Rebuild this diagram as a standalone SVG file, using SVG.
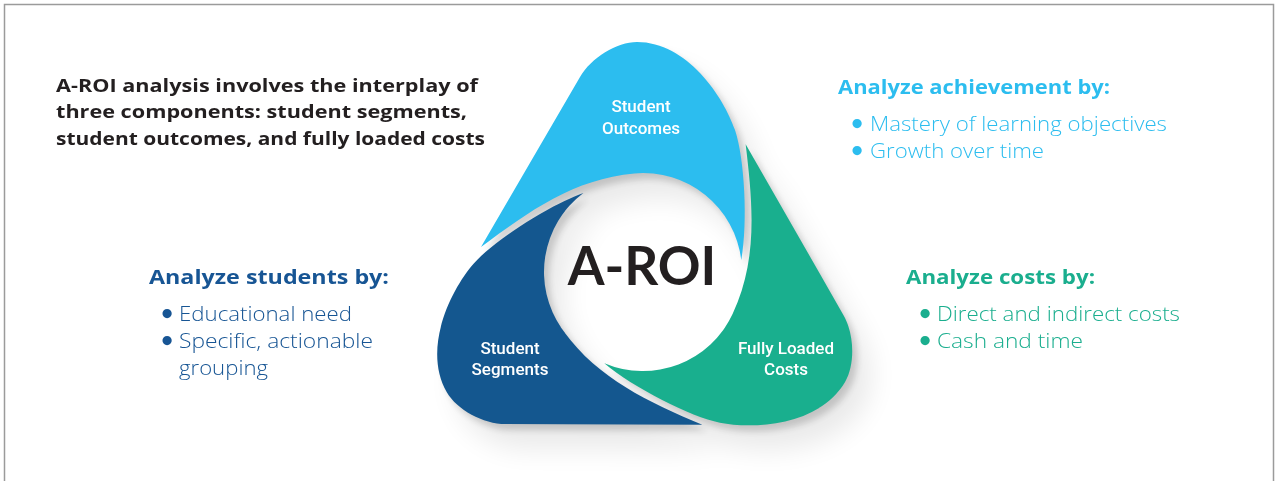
<svg xmlns="http://www.w3.org/2000/svg" xmlns:xlink="http://www.w3.org/1999/xlink" width="1276" height="481" viewBox="0 0 1276 481">
  <defs>
    <style>
      .frame { fill: none; stroke: #9b9b9b; stroke-width: 1.5; }
      .intro { font-family: "Open Sans", "Liberation Sans", sans-serif; font-weight: 700; font-size: 18.5px; fill: #231f20; }
      .head { font-family: "Open Sans", "Liberation Sans", sans-serif; font-weight: 700; font-size: 20px; }
      .item { font-family: "Open Sans", "Liberation Sans", sans-serif; font-weight: 300; font-size: 20px; }
      .dot { font-family: Lato, "Liberation Sans", sans-serif; font-weight: 700; font-size: 21px; text-anchor: middle; }
      .lobe-label { font-family: Roboto, "Liberation Sans", sans-serif; font-weight: 500; font-size: 17px; fill: #ffffff; text-anchor: middle; }
      .core { font-family: Lato, "Liberation Sans", sans-serif; font-weight: 700; font-size: 53px; fill: #231f20; text-anchor: middle; }
      .sky { fill: #2cbdef; }
      .navy { fill: #14578f; }
      .teal { fill: #19af8e; }
    </style>
    <!-- one swirl lobe, drawn around the centre of the ring; rotated copies make the other two -->
    <path id="lobe" d="M -162,-25 L -63,-195 C -51.8,-214.3 -26.1,-230 -6,-230 C 44,-230 80.9,-175.2 92,-142 C 101.5,-113.5 105,-50 98.3,-12.1 A 99 99 0 0 0 -8.6,-98.6 C -68.4,-93.4 -114,-61 -162,-25 Z"/>
    <filter id="lobe-shadow" x="-30%" y="-30%" width="170%" height="170%">
      <feGaussianBlur in="SourceAlpha" stdDeviation="3" result="b1"/>
      <feOffset in="b1" dx="5" dy="6" result="o1"/>
      <feComponentTransfer in="o1" result="s1"><feFuncA type="linear" slope="0.16"/></feComponentTransfer>
      <feGaussianBlur in="SourceAlpha" stdDeviation="14" result="b2"/>
      <feOffset in="b2" dx="18" dy="24" result="o2"/>
      <feComponentTransfer in="o2" result="s2"><feFuncA type="linear" slope="0.09"/></feComponentTransfer>
      <feMerge><feMergeNode in="s2"/><feMergeNode in="s1"/></feMerge>
    </filter>
  </defs>

  <rect class="frame" x="4.5" y="4.5" width="1269" height="500"/>

  <!-- soft shadow under the three lobes -->
  <g id="lobe-shadows" filter="url(#lobe-shadow)">
    <use xlink:href="#lobe" href="#lobe" transform="translate(643,272)"/>
    <use xlink:href="#lobe" href="#lobe" transform="translate(643,272) rotate(120)"/>
    <use xlink:href="#lobe" href="#lobe" transform="translate(643,272) rotate(240)"/>
  </g>

  <g id="node-outcomes">
    <use xlink:href="#lobe" href="#lobe" class="sky" transform="translate(643,272)"/>
    <text class="lobe-label" x="641" y="112">Student</text>
    <text class="lobe-label" x="641" y="134">Outcomes</text>
  </g>

  <g id="node-costs">
    <use xlink:href="#lobe" href="#lobe" class="teal" transform="translate(643,272) rotate(120)"/>
    <text class="lobe-label" x="786" y="354">Fully Loaded</text>
    <text class="lobe-label" x="786" y="375">Costs</text>
  </g>

  <g id="node-segments">
    <use xlink:href="#lobe" href="#lobe" class="navy" transform="translate(643,272) rotate(240)"/>
    <text class="lobe-label" x="510" y="354">Student</text>
    <text class="lobe-label" x="510" y="375">Segments</text>
  </g>

  <g id="node-center">
    <text class="core" x="642" y="285">A-ROI</text>
  </g>

  <g id="intro">
    <text class="intro" x="56" y="92" textLength="422" lengthAdjust="spacingAndGlyphs">A-ROI analysis involves the interplay of</text>
    <text class="intro" x="56" y="118" textLength="411" lengthAdjust="spacingAndGlyphs">three components: student segments,</text>
    <text class="intro" x="56" y="145" textLength="429" lengthAdjust="spacingAndGlyphs">student outcomes, and fully loaded costs</text>
  </g>

  <g id="panel-achievement" fill="#2cbdef">
    <text class="head" x="838" y="94" textLength="272" lengthAdjust="spacingAndGlyphs">Analyze achievement by:</text>
    <text class="dot" x="857" y="130">•</text>
    <text class="item" x="870" y="131" textLength="297" lengthAdjust="spacingAndGlyphs">Mastery of learning objectives</text>
    <text class="dot" x="857" y="157">•</text>
    <text class="item" x="870" y="158" textLength="174" lengthAdjust="spacingAndGlyphs">Growth over time</text>
  </g>

  <g id="panel-students" fill="#175594">
    <text class="head" x="149" y="284" textLength="240" lengthAdjust="spacingAndGlyphs">Analyze students by:</text>
    <text class="dot" x="167" y="320">•</text>
    <text class="item" x="179" y="321" textLength="173" lengthAdjust="spacingAndGlyphs">Educational need</text>
    <text class="dot" x="167" y="347">•</text>
    <text class="item" x="179" y="348" textLength="194" lengthAdjust="spacingAndGlyphs">Specific, actionable</text>
    <text class="item" x="179" y="375" textLength="89" lengthAdjust="spacingAndGlyphs">grouping</text>
  </g>

  <g id="panel-costs" fill="#1aae8e">
    <text class="head" x="906" y="284" textLength="189" lengthAdjust="spacingAndGlyphs">Analyze costs by:</text>
    <text class="dot" x="925" y="320">•</text>
    <text class="item" x="937" y="321" textLength="243" lengthAdjust="spacingAndGlyphs">Direct and indirect costs</text>
    <text class="dot" x="925" y="347">•</text>
    <text class="item" x="937" y="348" textLength="146" lengthAdjust="spacingAndGlyphs">Cash and time</text>
  </g>
</svg>
